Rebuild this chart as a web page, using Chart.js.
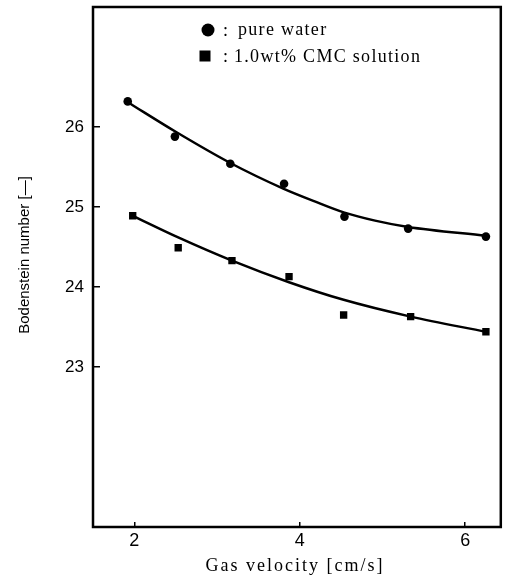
<!DOCTYPE html>
<html>
<head>
<meta charset="utf-8">
<script src="https://cdn.jsdelivr.net/npm/chart.js@4/dist/chart.umd.min.js"></script>
<style>
  html, body { margin: 0; padding: 0; background: #fff; }
  #wrap { width: 506px; height: 578px; }
</style>
</head>
<body>
<div id="wrap"><canvas id="chart" width="506" height="578"></canvas></div>
<script>
const waterX = [1.92, 2.49, 3.16, 3.81, 4.54, 5.31, 6.25];
const waterY = [26.32, 25.88, 25.54, 25.29, 24.88, 24.73, 24.63];
const cmcX = [1.98, 2.53, 3.18, 3.87, 4.53, 5.34, 6.25];
const cmcY = [24.89, 24.49, 24.33, 24.13, 23.65, 23.63, 23.44];

// Fitted curves at a few x values
const waterFitX = [1.92, 2.5, 3.16, 3.8, 4.18, 4.54, 4.91, 5.31, 6.25];
const waterFitY = [26.31, 25.94, 25.55, 25.23, 25.07, 24.93, 24.83, 24.75, 24.64];
const cmcFitX = [1.98, 2.53, 3.18, 3.87, 4.53, 5.34, 6.25];
const cmcFitY = [24.89, 24.62, 24.33, 24.06, 23.84, 23.63, 23.44];

// Axis ticks
const xTicks = [2, 4, 6];
const yTicks = [23, 24, 25, 26];

const legendLabels = ['pure water', '1.0wt% CMC solution'];
const xTitle = 'Gas velocity [cm/s]';
const yTitle = 'Bodenstein number [\u2014]';

const toPoints = (xs, ys) => xs.map((x, i) => ({ x: x, y: ys[i] }));

// Frame, legend and axis titles
const decorPlugin = {
    id: 'decor',
    afterDraw(chart) {
        const ctx = chart.ctx;
        const a = chart.chartArea;
        ctx.save();
        ctx.strokeStyle = '#000';
        ctx.lineWidth = 2.5;
        ctx.strokeRect(a.left, a.top, a.right - a.left, a.bottom - a.top);

        // legend
        ctx.fillStyle = '#000';
        ctx.beginPath();
        ctx.arc(208, 30, 6.5, 0, Math.PI * 2);
        ctx.fill();
        ctx.fillRect(199.5, 50.5, 11, 11);
        ctx.font = '18px "Liberation Serif"';
        ctx.textBaseline = 'middle';
        ctx.textAlign = 'left';
        ctx.letterSpacing = '0px';
        ctx.fillText(':', 223, 31);
        ctx.fillText(':', 223, 57);
        ctx.letterSpacing = '1.3px';
        ctx.fillText(legendLabels[0], 238, 30);
        ctx.fillText(legendLabels[1], 234, 57);

        // x title
        ctx.letterSpacing = '2px';
        ctx.textAlign = 'center';
        ctx.font = '18px "Liberation Serif"';
        ctx.fillText(xTitle, 295, 566);

        // y title
        ctx.letterSpacing = '0px';
        ctx.font = '15px "Liberation Sans"';
        ctx.translate(25, 255);
        ctx.rotate(-Math.PI / 2);
        ctx.fillText(yTitle, 0, 0);
        ctx.restore();
    }
};

const ctx = document.getElementById('chart');
new Chart(ctx, {
    type: 'scatter',
    data: {
        datasets: [
            {
                label: legendLabels[0],
                data: toPoints(waterX, waterY),
                pointStyle: 'circle',
                pointRadius: 4.3,
                backgroundColor: '#000',
                borderColor: '#000',
                borderWidth: 0
            },
            {
                label: legendLabels[1],
                data: toPoints(cmcX, cmcY),
                pointStyle: 'rect',
                pointRadius: 5.2,
                backgroundColor: '#000',
                borderColor: '#000',
                borderWidth: 0
            },
            {
                label: 'fit water',
                data: toPoints(waterFitX, waterFitY),
                showLine: true,
                pointRadius: 0,
                borderColor: '#000',
                borderWidth: 2.5,
                cubicInterpolationMode: 'monotone'
            },
            {
                label: 'fit cmc',
                data: toPoints(cmcFitX, cmcFitY),
                showLine: true,
                pointRadius: 0,
                borderColor: '#000',
                borderWidth: 2.5,
                cubicInterpolationMode: 'monotone'
            }
        ]
    },
    options: {
        responsive: false,
        animation: false,
        layout: { padding: { left: 0, right: 5, top: 7, bottom: 0 } },
        plugins: {
            legend: { display: false },
            tooltip: { enabled: false }
        },
        scales: {
            x: {
                type: 'linear',
                min: 1.5,
                max: 6.43,
                afterBuildTicks: (scale) => { scale.ticks = xTicks.map(v => ({ value: v })); },
                afterFit: (scale) => {
                    scale.height = 51;
                    scale.paddingLeft = 0;
                    scale.paddingRight = 0;
                },
                border: { display: false },
                grid: { drawOnChartArea: false, drawTicks: true, tickLength: -5, color: '#000', lineWidth: 1.5 },
                ticks: {
                    color: '#000',
                    padding: 8,
                    maxRotation: 0,
                    font: { family: 'Liberation Sans', size: 18 }
                }
            },
            y: {
                type: 'linear',
                min: 21,
                max: 27.5,
                afterBuildTicks: (scale) => { scale.ticks = yTicks.map(v => ({ value: v })); },
                afterFit: (scale) => {
                    scale.width = 93;
                    scale.paddingTop = 0;
                    scale.paddingBottom = 0;
                },
                border: { display: false },
                grid: { drawOnChartArea: false, drawTicks: true, tickLength: -7, color: '#000', lineWidth: 1.5 },
                ticks: {
                    color: '#000',
                    padding: 16,
                    font: { family: 'Liberation Sans', size: 17 }
                }
            }
        }
    },
    plugins: [decorPlugin]
});
</script>
</body>
</html>
